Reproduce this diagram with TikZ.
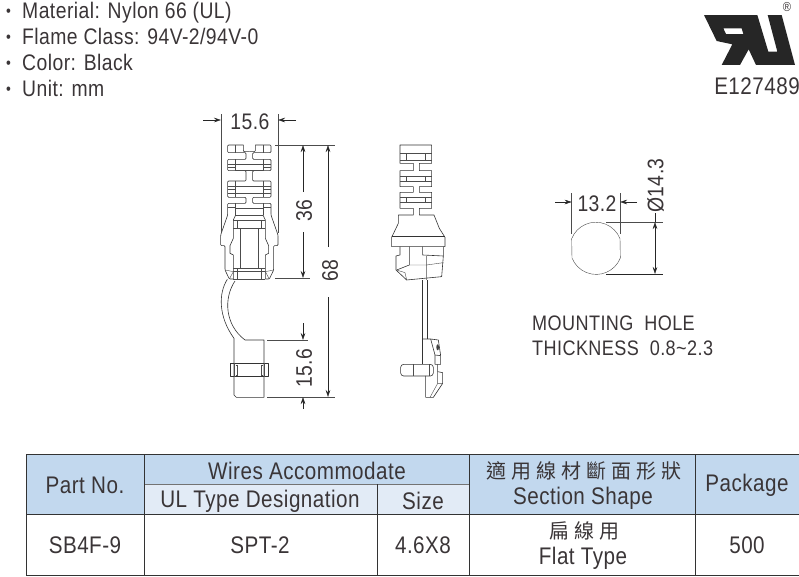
\documentclass[tikz,border=0pt]{standalone}
\usepackage{fontspec}
\setmainfont[FakeStretch=0.86,LetterSpace=2.0]{Liberation Sans}
\newfontfamily\cjkfont[LetterSpace=25]{Noto Sans CJK TC}
\usetikzlibrary{arrows.meta}
\definecolor{headblue}{HTML}{C2D8EE}
\definecolor{subblue}{HTML}{E2EBF6}
\definecolor{inkgrey}{HTML}{3A3537}
\newcommand{\sizept}[1]{\fontsize{#1}{#1}\selectfont}
% one half of the symmetric front view, read in zoomed coordinates
\newcommand{\fronthalf}{
    \draw[part,rounded corners=1pt] (160,135) -- (113,135) -- (113,158) -- (168,158) -- (168,178) -- (113,178) -- (113,212)
        -- (168,212) -- (168,243) -- (113,243) -- (113,292) -- (168,292) -- (168,310) -- (113,310)
        -- (113,345) -- (92,405) -- (92,437) -- (105,437) -- (105,510) -- (118,537) -- (130,537);
    \draw[part,rounded corners=1pt] (160,135) -- (160,155) -- (178,155);
    % windows in the fins
    \draw[fine] (135,135) -- (135,158) (135,178) -- (135,212) (135,243) -- (135,292) (135,310) -- (135,345);
    \draw[fine] (113,192) -- (178,192) (113,202) -- (135,202) (135,210) -- (178,210);
    \draw[fine] (113,258) -- (178,258) (113,268) -- (135,268) (113,280) -- (178,280);
    \draw[fine] (113,322) -- (135,322) (135,325) -- (178,325) (137,345) -- (178,345);
    % clip body
    \draw[part] (137,345) -- (130,360) -- (130,415) -- (120,437) -- (120,460) -- (130,465) -- (130,537);
    \draw[fine] (130,360) -- (178,360) (130,385) -- (178,385) (130,505) -- (178,505) (130,515) -- (178,515) (130,537) -- (178,537);
    \draw[fine] (143,360) -- (143,385) (143,505) -- (143,537) (150,385) -- (150,505);
    \draw[fine] (105,510) -- (130,515) (118,537) -- (130,515);
}
\tikzset{
    part/.style={line width=0.6pt, draw=black!80, line join=round},
    fine/.style={line width=0.4pt, draw=black!70},
    dimline/.style={line width=0.5pt, draw=black!85},
    extline/.style={line width=0.7pt, draw=black!70},
    dimarrow/.style={dimline, -{Stealth[length=7pt,width=4.5pt]}},
    dimtext/.style={inner sep=0pt, text=inkgrey, font=\sizept{22.5}},
    cell/.style={inner sep=0pt, text=inkgrey, font=\sizept{24}, align=center},
    bullet/.style={inner sep=0pt, anchor=base west, text=inkgrey, font=\sizept{22.5}},
    grid/.style={line width=0.8pt, draw=black!80}
}
\begin{document}
\begin{tikzpicture}[x=1pt,y=-1pt]
    \useasboundingbox (0,0) rectangle (799,576);

    % --- Notes ---
    \node[bullet,font=\sizept{16}] (dotA) at (6,16) {\textbullet};
    \node[bullet,font=\sizept{16}] (dotB) at (6,42) {\textbullet};
    \node[bullet,font=\sizept{16}] (dotC) at (6,68) {\textbullet};
    \node[bullet,font=\sizept{16}] (dotD) at (6,94) {\textbullet};
    \node[bullet] (material) at (22,18) {Material: Nylon 66 (UL)};
    \node[bullet] (flame) at (22,44) {Flame Class: 94V-2/94V-0};
    \node[bullet] (colour) at (22,70) {Color: Black};
    \node[bullet] (unit) at (22,96) {Unit: mm};

    % --- Logo ---
    \begin{scope}[shift={(700,10)},x=0.3333pt,y=-0.3333pt]
        \fill[black!85,even odd rule] (12,15) -- (172,15) -- (205,125) -- (232,125) -- (203,15) -- (245,15) -- (285,165)
            -- (168,165) -- (146,118) -- (120,165) -- (65,165) -- (97,103) -- (50,93) -- cycle
            (70,55) -- (125,55) -- (130,72) -- (78,72) -- cycle;
    \end{scope}
    \node[inner sep=0pt,text=inkgrey,font=\sizept{13}] (regmark) at (787,7) {®};
    \node[dimtext,font=\sizept{24}] (ulfile) at (757,86) {E127489};

    % --- Front view ---
    \begin{scope}[shift={(190,100)},x=0.3333pt,y=-0.3333pt]
        \fronthalf
        \begin{scope}[shift={(356,0)},xscale=-1]
            \fronthalf
        \end{scope}
    \end{scope}
    % --- Wire and plug, front view ---
    \begin{scope}[shift={(190,270)},x=0.3333pt,y=-0.3333pt]
        \draw[part] (112,28) .. controls (85,70) and (85,140) .. (132,205) -- (132,375) -- (139,382) -- (222,382) -- (222,210) -- (165,210)
            .. controls (105,165) and (100,85) .. (135,33);
        \draw[part] (120,280) rectangle (236,320);
        \draw[fine] (133,280) -- (133,320) (143,285) -- (143,315) (137,285) -- (143,285) (137,315) -- (143,315);
        \draw[fine] (213,285) -- (213,315) (222,280) -- (222,320) (213,285) -- (219,285) (213,315) -- (219,315);
    \end{scope}

    % --- Side view ---
    \begin{scope}[shift={(380,130)},x=0.3333pt,y=-0.3333pt]
        \draw[part] (60,45) -- (155,45) -- (155,100) -- (118,100) -- (118,122) -- (155,122) -- (155,170) -- (118,170) -- (118,187)
            -- (155,187) -- (155,235) -- (118,235) -- (118,255) -- (162,255) -- (178,295) -- (195,322) -- (195,350) -- (35,350) -- (35,322)
            -- (55,280) -- (55,255) -- (100,255) -- (100,235) -- (60,235) -- (60,187) -- (100,187) -- (100,170) -- (60,170) -- (60,122)
            -- (100,122) -- (100,100) -- (60,100) -- cycle;
        \draw[fine] (60,70) -- (155,70) (60,90) -- (155,90) (80,70) -- (80,90) (137,70) -- (137,90);
        \draw[fine] (60,138) -- (155,138) (60,153) -- (155,153) (80,138) -- (80,153) (137,138) -- (137,153);
        \draw[fine] (60,203) -- (155,203) (60,218) -- (155,218) (80,203) -- (80,218) (137,203) -- (137,218);
        \draw[part] (35,320) -- (195,320);
        \draw[part] (60,350) -- (60,375) -- (48,378) -- (48,420) -- (80,450) -- (185,440) -- (190,378) -- (190,350);
        \draw[part] (88,350) -- (88,405) -- (50,420) (128,350) -- (128,375) -- (190,378);
        \draw[fine] (88,405) -- (140,405) -- (190,398) (140,378) -- (140,450) (80,450) -- (75,428) -- (50,420);
    \end{scope}
    \begin{scope}[shift={(390,270)},x=0.3333pt,y=-0.3333pt]
        \draw[part] (98,30) -- (98,283) (112,30) -- (112,207);
        \draw[part] (98,207) -- (122,207) -- (145,210) -- (152,257) -- (152,283) -- (135,283) -- (135,255) -- (122,207);
        \draw[part] (135,255) -- (152,257);
        \fill[black!75] (143,232) ellipse (4 and 9);
        \draw[part,rounded corners=3pt] (130,283) -- (32,283) -- (32,318) -- (130,318) -- cycle;
        \draw[fine] (70,283) -- (70,318) (118,283) -- (118,318);
        \draw[part] (107,318) -- (107,382) -- (130,382) -- (158,340) -- (158,308) -- (143,305) -- (143,283);
        \draw[fine] (143,340) -- (120,382) (143,340) -- (158,340) (143,305) -- (143,340);
    \end{scope}

    % --- Mounting hole ---
    \begin{scope}[shift={(540,150)},x=0.3333pt,y=-0.3333pt]
        \draw[fine] (95,266) arc[start angle=-158.4,end angle=-21.6,radius=78] -- (241,324)
            arc[start angle=21.6,end angle=158.4,radius=78] -- cycle;
    \end{scope}

    % --- Dimensions, front view ---
    \coordinate (wideL) at (221,114);
    \coordinate (wideLb) at (221,233);
    \coordinate (wideR) at (278,114);
    \coordinate (wideRb) at (278,233);
    \draw[extline] (wideL) -- (wideLb);
    \draw[extline] (wideR) -- (wideRb);
    \coordinate (wideAin) at (203,120);
    \coordinate (wideAtip) at (221,120);
    \coordinate (wideBin) at (296,120);
    \coordinate (wideBtip) at (278,120);
    \draw[dimarrow] (wideAin) -- (wideAtip);
    \draw[dimarrow] (wideBin) -- (wideBtip);
    \node[dimtext] (wideText) at (250,122) {15.6};

    \coordinate (topA) at (275,145);
    \coordinate (topB) at (335,145);
    \coordinate (midA) at (275,278);
    \coordinate (midB) at (310,278);
    \coordinate (lowA) at (267,340);
    \coordinate (lowB) at (308,340);
    \coordinate (botA) at (267,397);
    \coordinate (botB) at (335,397);
    \draw[extline] (topA) -- (topB);
    \draw[extline] (midA) -- (midB);
    \draw[extline] (lowA) -- (lowB);
    \draw[extline] (botA) -- (botB);

    \node[dimtext,rotate=90] (upperText) at (304,211) {36};
    \coordinate (upperTip) at (303,145);
    \coordinate (upperTipB) at (303,278);
    \draw[dimarrow] (303,192) -- (upperTip);
    \draw[dimarrow] (303,232) -- (upperTipB);

    \node[dimtext,rotate=90] (totalText) at (330,271) {68};
    \coordinate (totalTip) at (328,145);
    \coordinate (totalTipB) at (328,397);
    \draw[dimarrow] (328,247) -- (totalTip);
    \draw[dimarrow] (328,297) -- (totalTipB);

    \node[dimtext,rotate=90] (plugText) at (304,368) {15.6};
    \coordinate (plugTip) at (303,340);
    \coordinate (plugTipB) at (303,397);
    \draw[dimarrow] (303,323) -- (plugTip);
    \draw[dimarrow] (303,409) -- (plugTipB);

    % --- Dimensions, hole ---
    \coordinate (holeL) at (571.7,193);
    \coordinate (holeLb) at (571.7,234);
    \coordinate (holeR) at (620,193);
    \coordinate (holeRb) at (620,234);
    \draw[extline] (holeL) -- (holeLb);
    \draw[extline] (holeR) -- (holeRb);
    \coordinate (holeAin) at (555,202);
    \coordinate (holeAtip) at (571.7,202);
    \coordinate (holeBin) at (637,202);
    \coordinate (holeBtip) at (620,202);
    \draw[dimarrow] (holeAin) -- (holeAtip);
    \draw[dimarrow] (holeBin) -- (holeBtip);
    \node[dimtext] (flatText) at (597,203.5) {13.2};

    \coordinate (diaA) at (606,222);
    \coordinate (diaB) at (663,222);
    \coordinate (diaC) at (606,274);
    \coordinate (diaD) at (663,274);
    \draw[extline] (diaA) -- (diaB);
    \draw[dimline] (diaC) -- (diaD);
    \coordinate (diaTipA) at (655,222);
    \coordinate (diaTipB) at (655,274);
    \coordinate (diaIn) at (655,213);
    \draw[dimline] (diaIn) -- (diaTipA);
    \draw[dimarrow,{Stealth[length=7pt,width=4.5pt]}-{Stealth[length=7pt,width=4.5pt]}] (diaTipA) -- (diaTipB);
    \node[dimtext,rotate=90] (diaText) at (655.5,185.5) {Ø14.3};

    \node[dimtext,font=\sizept{21},anchor=west] (holeA) at (532,323) {MOUNTING\ \ HOLE};
    \node[dimtext,font=\sizept{21},anchor=west] (holeB) at (532,348) {THICKNESS\ \ 0.8\textasciitilde 2.3};

    % --- Table ---
    \fill[headblue] (26,454) rectangle (799,514.5);
    \fill[subblue] (144,484) rectangle (469,514.5);
    \draw[grid] (26,454) rectangle (799,575);
    \draw[grid] (26,514.5) -- (799,514.5);
    \draw[grid,black!55] (144,484) -- (469,484);
    \draw[grid] (144,454) -- (144,575);
    \draw[grid] (377,484) -- (377,575);
    \draw[grid] (469,454) -- (469,575);
    \draw[grid] (695,454) -- (695,575);

    \node[cell] (partHead) at (85,485) {Part No.};
    \node[cell] (wiresHead) at (307,470.5) {Wires Accommodate};
    \node[cell] (ulHead) at (260,501.5) {UL Type Designation};
    \node[cell] (sizeHead) at (423,501) {Size};
    \node[cell] (cjkHead) at (584,471) {\cjkfont\sizept{20}適用線材斷面形狀};
    \node[cell] (shapeHead) at (583,498.5) {Section Shape};
    \node[cell] (packHead) at (747,485.5) {Package};
    \node[cell] (partCell) at (85,545) {SB4F-9};
    \node[cell] (ulCell) at (260,545) {SPT-2};
    \node[cell] (sizeCell) at (423,545) {4.6X8};
    \node[cell] (cjkCell) at (584,531) {\cjkfont\sizept{20}扁線用};
    \node[cell] (shapeCell) at (583,558.5) {Flat Type};
    \node[cell] (packCell) at (747,545) {500};
\end{tikzpicture}
\end{document}
